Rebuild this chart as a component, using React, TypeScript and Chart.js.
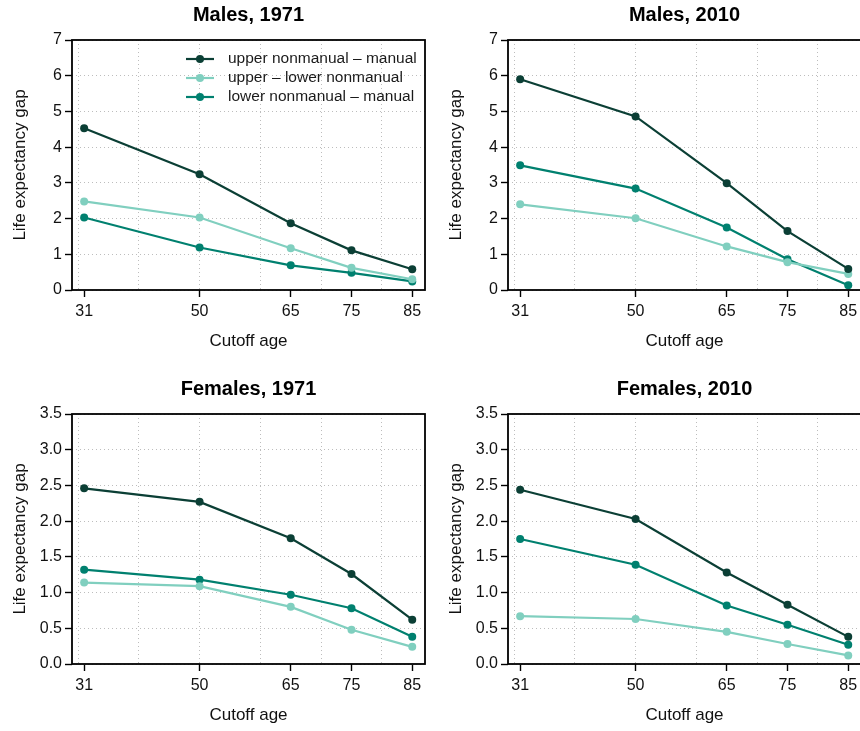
import React, { useEffect, useRef } from "react";
import { Chart, registerables } from "chart.js";

Chart.register(...registerables);

// ---------- data ----------
const ages = [31, 50, 65, 75, 85];
const xGridValues = [30, 40, 50, 60, 70, 80];
const maleYTicks = [0, 1, 2, 3, 4, 5, 6, 7];
const femaleYTicks = [0, 0.5, 1, 1.5, 2, 2.5, 3, 3.5];

const seriesLabels = [
  "upper nonmanual \u2013 manual",
  "upper \u2013 lower nonmanual",
  "lower nonmanual \u2013 manual",
];
const seriesColors = ["#0b3f35", "#80cfbf", "#00806f"];

const males1971UpperManual = [4.53, 3.24, 1.87, 1.11, 0.58];
const males1971UpperLower = [2.48, 2.03, 1.17, 0.62, 0.3];
const males1971LowerManual = [2.03, 1.19, 0.69, 0.48, 0.24];

const males2010UpperManual = [5.9, 4.86, 2.99, 1.65, 0.59];
const males2010UpperLower = [2.4, 2.01, 1.22, 0.78, 0.45];
const males2010LowerManual = [3.49, 2.84, 1.75, 0.86, 0.13];

const females1971UpperManual = [2.46, 2.27, 1.76, 1.26, 0.62];
const females1971UpperLower = [1.14, 1.09, 0.8, 0.48, 0.24];
const females1971LowerManual = [1.32, 1.18, 0.97, 0.78, 0.38];

const females2010UpperManual = [2.44, 2.03, 1.28, 0.83, 0.38];
const females2010UpperLower = [0.67, 0.63, 0.45, 0.28, 0.12];
const females2010LowerManual = [1.75, 1.39, 0.82, 0.55, 0.27];

// ---------- style ----------
const FONT = "'Liberation Sans', Arial, Helvetica, sans-serif";
const GRID = "#bdbdbd";
const TEXT = "#111111";
const X_MIN = 29;
const X_MAX = 87.1;
const CANVAS_W = 440;
const CANVAS_H = 365;

type PanelProps = {
  title: string;
  series: number[][];
  yTicks: number[];
  decimals: number;
  legend: boolean;
  left: number;
  top: number;
};

function Panel({ title, series, yTicks, decimals, legend, left, top }: PanelProps) {
  const ref = useRef<HTMLCanvasElement>(null);

  useEffect(() => {
    const canvas = ref.current;
    if (!canvas) return;

    const decorPlugin = {
      id: "decor",
      afterDraw(chart: any) {
        const { ctx, chartArea } = chart;
        const { left: l, top: t, right: r, bottom: b } = chartArea;
        ctx.save();
        // frame
        ctx.strokeStyle = "#000";
        ctx.lineWidth = 1.8;
        ctx.setLineDash([]);
        ctx.strokeRect(l, t, r - l, b - t);
        // title
        ctx.fillStyle = "#000";
        ctx.font = `bold 20px ${FONT}`;
        ctx.textAlign = "center";
        ctx.textBaseline = "middle";
        ctx.fillText(title, (l + r) / 2, t - 25);
        // legend
        if (legend) {
          chart.data.datasets.forEach((ds: any, i: number) => {
            const y = t + 19 + i * 19;
            const x0 = l + 114;
            const x1 = l + 142;
            ctx.strokeStyle = ds.borderColor;
            ctx.lineWidth = 2.2;
            ctx.beginPath();
            ctx.moveTo(x0, y);
            ctx.lineTo(x1, y);
            ctx.stroke();
            ctx.fillStyle = ds.borderColor;
            ctx.beginPath();
            ctx.arc((x0 + x1) / 2, y, 4, 0, Math.PI * 2);
            ctx.fill();
            ctx.fillStyle = "#1a1a1a";
            ctx.font = `15.5px ${FONT}`;
            ctx.textAlign = "left";
            ctx.textBaseline = "middle";
            ctx.fillText(ds.label, l + 156, y);
          });
        }
        ctx.restore();
      },
    };

    const chart = new Chart(canvas, {
      type: "line",
      data: {
        datasets: series.map((vals, i) => ({
          label: seriesLabels[i],
          data: ages.map((a, j) => ({ x: a, y: vals[j] })),
          borderColor: seriesColors[i],
          backgroundColor: seriesColors[i],
          pointBackgroundColor: seriesColors[i],
          pointBorderColor: seriesColors[i],
          pointRadius: 4,
          pointBorderWidth: 0,
          borderWidth: 2.2,
          tension: 0,
          xAxisID: "x",
          yAxisID: "y",
        })),
      },
      options: {
        responsive: false,
        animation: false,
        devicePixelRatio: 1,
        layout: { padding: { left: 0, right: 15, top: 40, bottom: 0 } },
        plugins: {
          legend: { display: false },
          title: { display: false },
          tooltip: { enabled: false },
        },
        scales: {
          x: {
            type: "linear",
            position: "bottom",
            min: X_MIN,
            max: X_MAX,
            afterBuildTicks: (s: any) => {
              s.ticks = ages.map((v) => ({ value: v }));
            },
            afterFit: (s: any) => {
              s.height = 75;
            },
            grid: {
              drawOnChartArea: false,
              drawTicks: true,
              tickLength: 7,
              tickColor: "#000",
              tickWidth: 1.4,
              tickBorderDash: [],
            },
            border: { display: false },
            ticks: {
              color: TEXT,
              font: { family: FONT, size: 16 },
              padding: 5,
              autoSkip: false,
              maxRotation: 0,
              callback: (v: any) => String(v),
            },
            title: {
              display: true,
              text: "Cutoff age",
              color: TEXT,
              font: { family: FONT, size: 17 },
              padding: { top: 0, bottom: 13 },
            },
          },
          x2: {
            type: "linear",
            position: "bottom",
            min: X_MIN,
            max: X_MAX,
            afterBuildTicks: (s: any) => {
              s.ticks = xGridValues.map((v) => ({ value: v }));
            },
            afterFit: (s: any) => {
              s.height = 0;
            },
            grid: { color: GRID, lineWidth: 1, drawTicks: false, drawOnChartArea: true },
            border: { display: false, dash: [1, 3] },
            ticks: { display: false },
            title: { display: false },
          },
          y: {
            type: "linear",
            position: "left",
            min: 0,
            max: yTicks[yTicks.length - 1],
            afterBuildTicks: (s: any) => {
              s.ticks = yTicks.map((v) => ({ value: v }));
            },
            afterFit: (s: any) => {
              s.width = 72;
            },
            grid: {
              color: GRID,
              lineWidth: 1,
              drawOnChartArea: true,
              drawTicks: true,
              tickLength: 7,
              tickColor: "#000",
              tickWidth: 1.4,
              tickBorderDash: [],
            },
            border: { display: false, dash: [1, 3] },
            ticks: {
              color: TEXT,
              font: { family: FONT, size: 16 },
              padding: 3,
              autoSkip: false,
              callback: (v: any) => Number(v).toFixed(decimals),
            },
            title: {
              display: true,
              text: "Life expectancy gap",
              color: TEXT,
              font: { family: FONT, size: 17 },
              padding: { top: 10, bottom: 0 },
            },
          },
        },
      } as any,
      plugins: [decorPlugin],
    });

    return () => chart.destroy();
  }, []);

  return (
    <canvas
      ref={ref}
      width={CANVAS_W}
      height={CANVAS_H}
      style={{ position: "absolute", left, top, width: CANVAS_W, height: CANVAS_H }}
    />
  );
}

export default function App() {
  return (
    <div
      style={{
        position: "absolute",
        left: 0,
        top: 0,
        width: 860,
        height: 731,
        overflow: "hidden",
        background: "#ffffff",
      }}
    >
      <Panel
        title="Males, 1971"
        series={[males1971UpperManual, males1971UpperLower, males1971LowerManual]}
        yTicks={maleYTicks}
        decimals={0}
        legend={true}
        left={0}
        top={0}
      />
      <Panel
        title="Males, 2010"
        series={[males2010UpperManual, males2010UpperLower, males2010LowerManual]}
        yTicks={maleYTicks}
        decimals={0}
        legend={false}
        left={436}
        top={0}
      />
      <Panel
        title="Females, 1971"
        series={[females1971UpperManual, females1971UpperLower, females1971LowerManual]}
        yTicks={femaleYTicks}
        decimals={1}
        legend={false}
        left={0}
        top={374}
      />
      <Panel
        title="Females, 2010"
        series={[females2010UpperManual, females2010UpperLower, females2010LowerManual]}
        yTicks={femaleYTicks}
        decimals={1}
        legend={false}
        left={436}
        top={374}
      />
    </div>
  );
}
